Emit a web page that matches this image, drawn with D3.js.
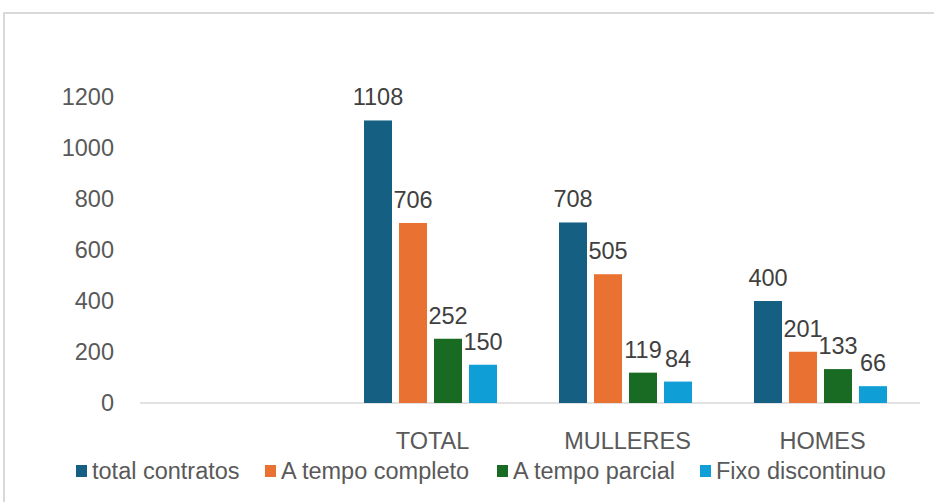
<!DOCTYPE html>
<html>
<head>
<meta charset="utf-8">
<script src="https://cdn.jsdelivr.net/npm/d3@7.9.0/dist/d3.min.js"></script>
<style>
  html, body { margin: 0; padding: 0; background: #fff; }
  svg { display: block; font-family: "Liberation Sans", Arial, sans-serif; }
</style>
</head>
<body>
<svg width="934" height="502"></svg>
<script>
const categories = ["", "TOTAL", "MULLERES", "HOMES"];
const seriesNames = ["total contratos", "A tempo completo", "A tempo parcial", "Fixo discontinuo"];
const totalContratos = [null, 1108, 708, 400];
const tempoCompleto = [null, 706, 505, 201];
const tempoParcial = [null, 252, 119, 133];
const fixoDiscontinuo = [null, 150, 84, 66];
const yTicks = [0, 200, 400, 600, 800, 1000, 1200];
const seriesColors = ["#156082", "#E97132", "#196B24", "#0F9ED5"];

const seriesValues = [totalContratos, tempoCompleto, tempoParcial, fixoDiscontinuo];
const fontSize = 23.5;

const svg = d3.select('svg');

// outer frame
svg.append('rect')
  .attr('x', 4).attr('y', 13)
  .attr('width', 960).attr('height', 520)
  .attr('fill', 'none')
  .attr('stroke', '#d9d9d9')
  .attr('stroke-width', 2);

let x0 = d3.scaleBand().domain(categories).range([140, 920]);
let x1 = d3.scaleBand().domain(seriesNames).range([29, 162]).paddingInner(0.2);
let y = d3.scaleLinear().domain([0, 1200]).range([403, 97]);
let color = d3.scaleOrdinal().domain(seriesNames).range(seriesColors);

// y tick labels
svg.append('g')
  .selectAll('text')
  .data(yTicks)
  .join('text')
  .attr('x', 114)
  .attr('y', d => y(d))
  .attr('dy', '0.35em')
  .attr('text-anchor', 'end')
  .attr('font-size', fontSize)
  .attr('fill', '#595959')
  .text(d => d);

// baseline
svg.append('line')
  .attr('x1', 140).attr('x2', 920)
  .attr('y1', y(0)).attr('y2', y(0))
  .attr('stroke', '#d9d9d9')
  .attr('stroke-width', 1.5);

// bars
let bars = [];
seriesNames.forEach((s, si) => {
  categories.forEach((c, ci) => {
    let v = seriesValues[si][ci];
    if (v != null) bars.push({ series: s, cat: c, value: v });
  });
});

svg.append('g')
  .selectAll('rect')
  .data(bars)
  .join('rect')
  .attr('x', d => x0(d.cat) + x1(d.series))
  .attr('y', d => y(d.value))
  .attr('width', x1.bandwidth())
  .attr('height', d => y(0) - y(d.value))
  .attr('fill', d => color(d.series));

// data labels
svg.append('g')
  .selectAll('text')
  .data(bars)
  .join('text')
  .attr('x', d => x0(d.cat) + x1(d.series) + x1.bandwidth() / 2)
  .attr('y', d => y(d.value) - 15)
  .attr('text-anchor', 'middle')
  .attr('font-size', fontSize)
  .attr('fill', '#404040')
  .text(d => d.value);

// category labels
svg.append('g')
  .selectAll('text')
  .data(categories)
  .join('text')
  .attr('x', d => x0(d) + x0.bandwidth() / 2)
  .attr('y', 441)
  .attr('dy', '0.35em')
  .attr('text-anchor', 'middle')
  .attr('font-size', fontSize)
  .attr('fill', '#595959')
  .text(d => d);

// legend
const legendX = [76, 265, 497, 700];
let legend = svg.append('g');
seriesNames.forEach((s, i) => {
  legend.append('rect')
    .attr('x', legendX[i]).attr('y', 465)
    .attr('width', 11).attr('height', 12)
    .attr('fill', color(s));
  legend.append('text')
    .attr('x', legendX[i] + 16)
    .attr('y', 471)
    .attr('dy', '0.35em')
    .attr('font-size', fontSize)
    .attr('fill', '#595959')
    .text(s);
});
</script>
</body>
</html>
